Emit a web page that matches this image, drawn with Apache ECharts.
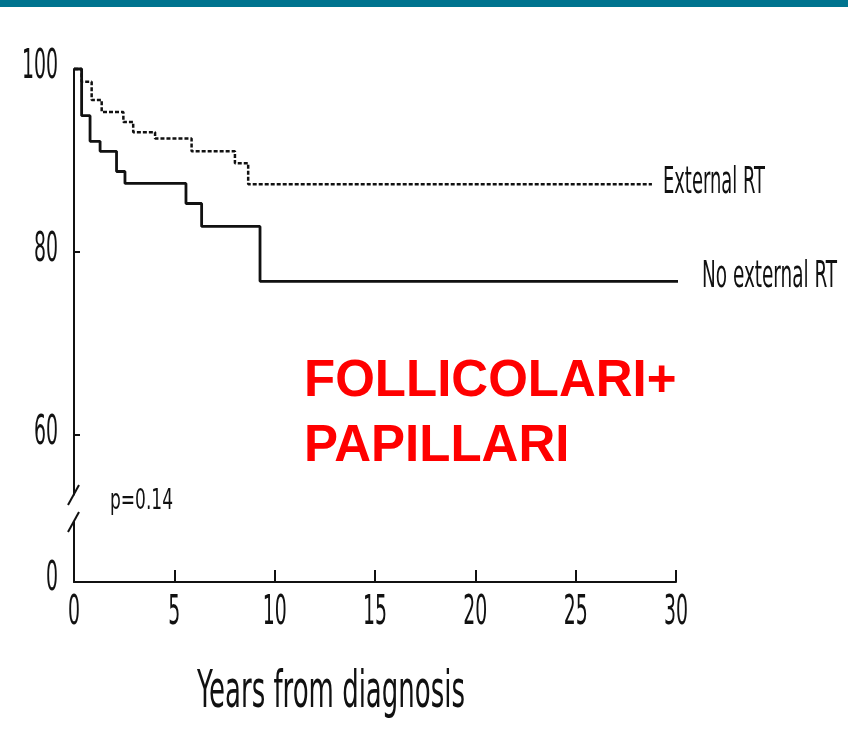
<!DOCTYPE html>
<html>
<head>
<meta charset="utf-8">
<title>Sopravvivenza – follicolari + papillari</title>
<script src="https://cdn.jsdelivr.net/npm/echarts@6.0.0/dist/echarts.min.js"></script>
<style>
  html, body { margin: 0; padding: 0; background: #ffffff; }
  #chart { width: 848px; height: 751px; }
</style>
</head>
<body>
<div id="chart"></div>
<script>
// Kaplan–Meier survival (%) by treatment group
const extRtYears = [0, 0.38, 0.88, 1.38, 2.46, 2.95, 4.04, 5.86, 8.02, 8.68, 28.8];
const extRtSurvival = [100, 98.6, 96.6, 95.3, 94.2, 93.1, 92.4, 91.0, 89.7, 87.4, 87.4];

const noExtRtYears = [0, 0.38, 0.80, 1.30, 2.12, 2.54, 5.58, 6.36, 9.27, 30.7];
const noExtRtSurvival = [100, 94.9, 92.1, 91.0, 88.8, 87.5, 85.3, 82.8, 76.8, 76.8];

// tick labels
const upperTicks = [60, 80, 100];
const lowerTicks = [0];
const xTicks = [0, 5, 10, 15, 20, 25, 30];

const pValueText = 'p=0.14';
const xTitle = 'Years from diagnosis';
const groupNames = ['External RT', 'No external RT'];
const subtitleLines = ['FOLLICOLARI+', 'PAPILLARI'];

const pairs = (xs, ys) => xs.map((x, i) => [x, ys[i]]);

const narrowFont = '"Liberation Sans Narrow", "DejaVu Sans Condensed", "Liberation Sans", sans-serif';
const ink = '#111111';

// horizontal squeeze so a label spans a given width
const measureCtx = document.createElement('canvas').getContext('2d');
function squeeze(text, size, width) {
  measureCtx.font = size + 'px ' + narrowFont;
  return width / measureCtx.measureText(text).width;
}

function condensedText(text, x, y, size, scaleX, align) {
  return {
    type: 'text',
    x: x, y: y,
    scaleX: scaleX,
    style: {
      text: String(text), x: 0, y: 0,
      fontFamily: narrowFont, fontSize: size,
      fill: ink, align: align || 'left', verticalAlign: 'middle'
    },
    silent: true
  };
}

const chart = echarts.init(document.getElementById('chart'), null, { renderer: 'canvas' });

const axisLineStyle = { color: ink, width: 2 };

chart.setOption({
  animation: false,
  backgroundColor: '#ffffff',
  grid: [
    { left: 74, top: 69, width: 602, height: 425.5, outerBoundsMode: 'none', containLabel: false },
    { left: 74, top: 522, width: 602, height: 60, outerBoundsMode: 'none', containLabel: false }
  ],
  xAxis: [
    { gridIndex: 0, type: 'value', min: 0, max: 30, show: false },
    {
      gridIndex: 1, type: 'value', min: 0, max: 30,
      axisLine: { show: true, lineStyle: axisLineStyle },
      axisTick: { show: true, inside: true, length: 12, customValues: xTicks, lineStyle: { color: ink, width: 2 } },
      axisLabel: { show: false },
      splitLine: { show: false }
    }
  ],
  yAxis: [
    {
      gridIndex: 0, type: 'value', min: 53.5, max: 100,
      axisLine: { show: true, lineStyle: axisLineStyle },
      axisTick: { show: true, inside: true, length: 6, customValues: upperTicks, lineStyle: { color: ink, width: 2 } },
      axisLabel: { show: false },
      splitLine: { show: false }
    },
    {
      gridIndex: 1, type: 'value', min: 0, max: 6,
      axisLine: { show: true, lineStyle: axisLineStyle },
      axisTick: { show: false },
      axisLabel: { show: false },
      splitLine: { show: false }
    }
  ],
  series: [
    {
      name: groupNames[0], type: 'line', step: 'end',
      xAxisIndex: 0, yAxisIndex: 0,
      data: pairs(extRtYears, extRtSurvival),
      showSymbol: false, clip: false,
      lineStyle: { color: ink, width: 2.5, type: [4, 2] }
    },
    {
      name: groupNames[1], type: 'line', step: 'end',
      xAxisIndex: 0, yAxisIndex: 0,
      data: pairs(noExtRtYears, noExtRtSurvival),
      showSymbol: false, clip: false,
      lineStyle: { color: ink, width: 2.8 }
    }
  ]
});

// tick labels, decorations and annotations placed from the axis scales
const tickSize = 41;
const tickScale = squeeze('00', tickSize, 24);
const toUpper = (x, y) => chart.convertToPixel({ gridIndex: 0 }, [x, y]);
const toLower = (x, y) => chart.convertToPixel({ gridIndex: 1 }, [x, y]);

const axisX = toUpper(0, 60)[0];
const labelRight = axisX - 16;

const tickLabels = [];
upperTicks.forEach(v => {
  const p = toUpper(0, v);
  tickLabels.push(condensedText(v, labelRight, p[1] - 2, tickSize, tickScale, 'right'));
});
lowerTicks.forEach(v => {
  const p = toLower(0, v);
  tickLabels.push(condensedText(v, labelRight, p[1] - 3, tickSize, tickScale, 'right'));
});
xTicks.forEach(v => {
  const p = toLower(v, 0);
  tickLabels.push(condensedText(v, p[0], p[1] + 31, tickSize, tickScale, 'center'));
});

const endExt = toUpper(extRtYears[extRtYears.length - 1], extRtSurvival[extRtSurvival.length - 1]);
const endNoExt = toUpper(noExtRtYears[noExtRtYears.length - 1], noExtRtSurvival[noExtRtSurvival.length - 1]);

chart.setOption({
  graphic: [
    // header band
    { type: 'rect', shape: { x: 0, y: 0, width: 848, height: 7 }, style: { fill: '#00748f' }, silent: true },
    // axis break marks
    { type: 'line', shape: { x1: axisX - 6, y1: 505, x2: axisX + 5, y2: 485 }, style: { stroke: ink, lineWidth: 2 }, silent: true },
    { type: 'line', shape: { x1: axisX - 6, y1: 532, x2: axisX + 5, y2: 512 }, style: { stroke: ink, lineWidth: 2 }, silent: true },
    ...tickLabels,
    // group labels at the curve ends
    condensedText(groupNames[0], endExt[0] + 11, endExt[1] - 1, 38, squeeze(groupNames[0], 38, 102)),
    condensedText(groupNames[1], endNoExt[0] + 12, endNoExt[1] - 4, 38, squeeze(groupNames[1], 38, 135)),
    condensedText(pValueText, 110, 501, 29, squeeze(pValueText, 29, 63)),
    condensedText(xTitle, 197, 694, 51, squeeze(xTitle, 51, 268)),
    // histology subtitle
    {
      type: 'text', x: 304, y: 382,
      style: { text: subtitleLines[0], x: 0, y: 0, fontFamily: '"Liberation Sans", Arial, sans-serif', fontWeight: 'bold', fontSize: 51, fill: '#ff0000', align: 'left', verticalAlign: 'middle' },
      silent: true
    },
    {
      type: 'text', x: 304, y: 447,
      style: { text: subtitleLines[1], x: 0, y: 0, fontFamily: '"Liberation Sans", Arial, sans-serif', fontWeight: 'bold', fontSize: 51, fill: '#ff0000', align: 'left', verticalAlign: 'middle' },
      silent: true
    }
  ]
});
</script>
</body>
</html>
